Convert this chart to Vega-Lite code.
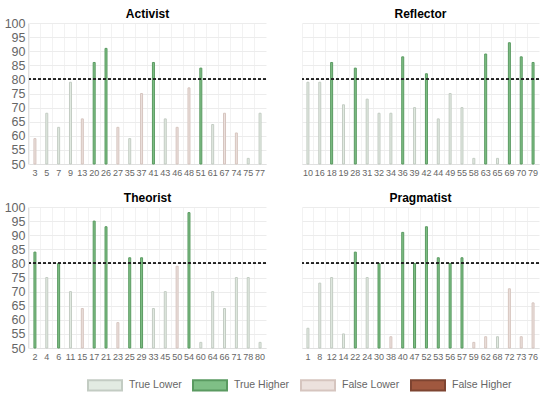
{
  "$schema": "https://vega.github.io/schema/vega-lite/v6.json",
  "padding": {"left": 4, "top": 8, "right": 5, "bottom": 5},
  "background": "white",
  "config": {
    "font": "Liberation Sans",
    "view": {"stroke": null},
    "axis": {"gridColor": "#ececec", "domainColor": "#e0e0e0", "tickColor": "#e0e0e0", "labelColor": "#666666"},
    "axisY": {"labelOverlap": false, "labelFontSize": 12.5, "ticks": false, "labelPadding": 3},
    "legend": {"labelColor": "#666666", "labelFontSize": 10.5}
  },
  "data": {"values": [
    {"s":"Activist","q":3,"v":59,"c":"False Lower"},
    {"s":"Activist","q":5,"v":68,"c":"True Lower"},
    {"s":"Activist","q":7,"v":63,"c":"True Lower"},
    {"s":"Activist","q":9,"v":79,"c":"True Lower"},
    {"s":"Activist","q":13,"v":66,"c":"False Lower"},
    {"s":"Activist","q":20,"v":86,"c":"True Higher"},
    {"s":"Activist","q":26,"v":91,"c":"True Higher"},
    {"s":"Activist","q":27,"v":63,"c":"False Lower"},
    {"s":"Activist","q":35,"v":59,"c":"True Lower"},
    {"s":"Activist","q":37,"v":75,"c":"False Lower"},
    {"s":"Activist","q":41,"v":86,"c":"True Higher"},
    {"s":"Activist","q":43,"v":66,"c":"True Lower"},
    {"s":"Activist","q":46,"v":63,"c":"False Lower"},
    {"s":"Activist","q":48,"v":77,"c":"False Lower"},
    {"s":"Activist","q":51,"v":84,"c":"True Higher"},
    {"s":"Activist","q":61,"v":64,"c":"True Lower"},
    {"s":"Activist","q":67,"v":68,"c":"False Lower"},
    {"s":"Activist","q":74,"v":61,"c":"False Lower"},
    {"s":"Activist","q":75,"v":52,"c":"True Lower"},
    {"s":"Activist","q":77,"v":68,"c":"True Lower"},
    {"s":"Reflector","q":10,"v":79,"c":"True Lower"},
    {"s":"Reflector","q":16,"v":79,"c":"True Lower"},
    {"s":"Reflector","q":18,"v":86,"c":"True Higher"},
    {"s":"Reflector","q":19,"v":71,"c":"True Lower"},
    {"s":"Reflector","q":28,"v":84,"c":"True Higher"},
    {"s":"Reflector","q":31,"v":73,"c":"True Lower"},
    {"s":"Reflector","q":32,"v":68,"c":"True Lower"},
    {"s":"Reflector","q":34,"v":68,"c":"True Lower"},
    {"s":"Reflector","q":36,"v":88,"c":"True Higher"},
    {"s":"Reflector","q":39,"v":70,"c":"True Lower"},
    {"s":"Reflector","q":42,"v":82,"c":"True Higher"},
    {"s":"Reflector","q":44,"v":66,"c":"True Lower"},
    {"s":"Reflector","q":49,"v":75,"c":"True Lower"},
    {"s":"Reflector","q":55,"v":70,"c":"True Lower"},
    {"s":"Reflector","q":58,"v":52,"c":"True Lower"},
    {"s":"Reflector","q":63,"v":89,"c":"True Higher"},
    {"s":"Reflector","q":65,"v":52,"c":"True Lower"},
    {"s":"Reflector","q":69,"v":93,"c":"True Higher"},
    {"s":"Reflector","q":70,"v":88,"c":"True Higher"},
    {"s":"Reflector","q":79,"v":86,"c":"True Higher"},
    {"s":"Theorist","q":2,"v":84,"c":"True Higher"},
    {"s":"Theorist","q":4,"v":75,"c":"True Lower"},
    {"s":"Theorist","q":6,"v":80,"c":"True Higher"},
    {"s":"Theorist","q":11,"v":70,"c":"True Lower"},
    {"s":"Theorist","q":15,"v":64,"c":"False Lower"},
    {"s":"Theorist","q":17,"v":95,"c":"True Higher"},
    {"s":"Theorist","q":21,"v":93,"c":"True Higher"},
    {"s":"Theorist","q":23,"v":59,"c":"False Lower"},
    {"s":"Theorist","q":25,"v":82,"c":"True Higher"},
    {"s":"Theorist","q":29,"v":82,"c":"True Higher"},
    {"s":"Theorist","q":33,"v":64,"c":"True Lower"},
    {"s":"Theorist","q":45,"v":70,"c":"True Lower"},
    {"s":"Theorist","q":50,"v":79,"c":"False Lower"},
    {"s":"Theorist","q":54,"v":98,"c":"True Higher"},
    {"s":"Theorist","q":60,"v":52,"c":"True Lower"},
    {"s":"Theorist","q":64,"v":70,"c":"True Lower"},
    {"s":"Theorist","q":66,"v":64,"c":"True Lower"},
    {"s":"Theorist","q":71,"v":75,"c":"True Lower"},
    {"s":"Theorist","q":78,"v":75,"c":"True Lower"},
    {"s":"Theorist","q":80,"v":52,"c":"True Lower"},
    {"s":"Pragmatist","q":1,"v":57,"c":"True Lower"},
    {"s":"Pragmatist","q":8,"v":73,"c":"True Lower"},
    {"s":"Pragmatist","q":12,"v":75,"c":"True Lower"},
    {"s":"Pragmatist","q":14,"v":55,"c":"True Lower"},
    {"s":"Pragmatist","q":22,"v":84,"c":"True Higher"},
    {"s":"Pragmatist","q":24,"v":75,"c":"True Lower"},
    {"s":"Pragmatist","q":30,"v":80,"c":"True Higher"},
    {"s":"Pragmatist","q":38,"v":54,"c":"False Lower"},
    {"s":"Pragmatist","q":40,"v":91,"c":"True Higher"},
    {"s":"Pragmatist","q":47,"v":80,"c":"True Higher"},
    {"s":"Pragmatist","q":52,"v":93,"c":"True Higher"},
    {"s":"Pragmatist","q":53,"v":82,"c":"True Higher"},
    {"s":"Pragmatist","q":56,"v":80,"c":"True Higher"},
    {"s":"Pragmatist","q":57,"v":82,"c":"True Higher"},
    {"s":"Pragmatist","q":59,"v":52,"c":"False Lower"},
    {"s":"Pragmatist","q":62,"v":54,"c":"False Lower"},
    {"s":"Pragmatist","q":68,"v":54,"c":"True Lower"},
    {"s":"Pragmatist","q":72,"v":71,"c":"False Lower"},
    {"s":"Pragmatist","q":73,"v":54,"c":"False Lower"},
    {"s":"Pragmatist","q":76,"v":66,"c":"False Lower"}
  ]},
  "facet": {
    "field": "s", "type": "nominal",
    "sort": ["Activist", "Reflector", "Theorist", "Pragmatist"],
    "header": {"title": null, "labelFontSize": 12, "labelFontWeight": "bold", "labelColor": "#000000", "labelPadding": 2}
  },
  "columns": 2,
  "spacing": {"column": 34, "row": 15},
  "resolve": {"scale": {"x": "independent"}, "axis": {"x": "independent"}},
  "spec": {
    "width": 237,
    "height": 141,
    "encoding": {
      "y": {"field": "v", "type": "quantitative", "title": null,
            "scale": {"domain": [50, 100], "zero": false, "nice": false},
            "axis": {"values": [50,55,60,65,70,75,80,85,90,95,100], "labelOverlap": false}}
    },
    "layer": [
      {
        "mark": {"type": "bar", "size": 2, "strokeWidth": 1},
        "encoding": {
          "x": {"field": "q", "type": "ordinal", "title": null,
                "scale": {"paddingInner": 0, "paddingOuter": 0},
                "axis": {"labelAngle": 0, "labelFontSize": 9, "ticks": false, "labelPadding": 4, "grid": true, "bandPosition": 0, "domain": true, "gridColor": "#f2f2f2"}},
          "y2": {"datum": 50},
          "fill": {"field": "c", "type": "nominal", "title": null,
                   "scale": {"domain": ["True Lower", "True Higher", "False Lower", "False Higher"],
                             "range": ["#e2ebe2", "#7fbf86", "#ece1dd", "#a0583f"]},
                   "legend": {"orient": "none", "legendX": 58, "legendY": 344, "direction": "horizontal",
                              "symbolType": "M-1,-0.3H1V0.3H-1Z", "symbolSize": 1156, "symbolStrokeWidth": 2,
                              "labelOffset": 6, "columnPadding": 7, "symbolOpacity": 1}},
          "stroke": {"field": "c", "type": "nominal", "title": null,
                     "scale": {"domain": ["True Lower", "True Higher", "False Lower", "False Higher"],
                               "range": ["#c3ccc3", "#5a9a61", "#d6c5bf", "#7e4431"]}}
        }
      },
      {
        "mark": {"type": "rule", "color": "#222222", "strokeDash": [3, 2], "strokeWidth": 1},
        "encoding": {"y": {"datum": 80, "type": "quantitative"}, "y2": null}
      }
    ]
  }
}
